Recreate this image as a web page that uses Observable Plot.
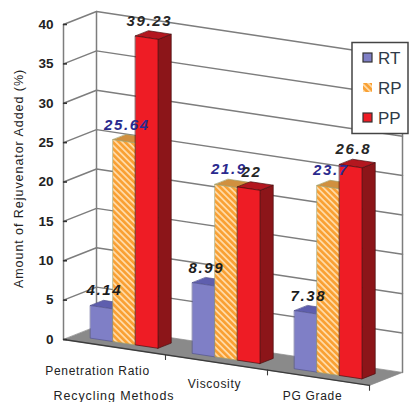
<!DOCTYPE html>
<html>
<head>
<meta charset="utf-8">
<script src="https://cdn.jsdelivr.net/npm/d3@7"></script>
<script src="https://cdn.jsdelivr.net/npm/@observablehq/plot@0.6"></script>
<style>
  html, body { margin: 0; padding: 0; background: #fff; }
</style>
</head>
<body>
<div id="chart"></div>
<script>
// Rejuvenator dosage by recycling method and binder type
const categories = ["Penetration Ratio", "Viscosity", "PG Grade"];
const seriesNames = ["RT", "RP", "PP"];
const rtValues = [4.14, 8.99, 7.38];
const rpValues = [25.64, 21.9, 23.7];
const ppValues = [39.23, 22, 26.8];
const valueTicks = [0, 5, 10, 15, 20, 25, 30, 35, 40];

// Oblique projection: u runs along the categories, f runs front to back (0..1)
const DEPTH_X = 33 / 102;
const DEPTH_Y = 1.65;
const SLOPE = 1.943;
const px = (u, f) => u + f * DEPTH_X;
const py = (u, v, f) => v - SLOPE * u + f * DEPTH_Y;
const pt = (id, u, v, f) => ({id, x: px(u, f), y: py(u, v, f)});

// Bar footprint inside a category cell
const BAR_START = 0.168, BAR_WIDTH = 0.2206, BAR_FRONT = 0.3, BAR_BACK = 0.7;

const styles = {
  RT: {front: "#7f7fc6", top: "#5e5eae", side: "#5a5aa6", stroke: "#55558f", values: rtValues, label: "#1c1c1c"},
  RP: {front: "url(#rp-hatch)", top: "#d0903f", side: "#c97f2c", stroke: "#a3a06a", values: rpValues, label: "#2a2a8e"},
  PP: {front: "#ee1c25", top: "#b3171f", side: "#8c1519", stroke: "#4a0f10", values: ppValues, label: "#262626"}
};

// One polygon per bar face
function faces(name, i) {
  const vals = styles[name].values;
  const front = [], top = [], side = [];
  vals.forEach((v, g) => {
    const a = g + BAR_START + i * BAR_WIDTH, b = a + BAR_WIDTH;
    front.push(pt(`f${g}`, a, 0, BAR_FRONT), pt(`f${g}`, b, 0, BAR_FRONT), pt(`f${g}`, b, v, BAR_FRONT), pt(`f${g}`, a, v, BAR_FRONT));
    top.push(pt(`t${g}`, a, v, BAR_FRONT), pt(`t${g}`, b, v, BAR_FRONT), pt(`t${g}`, b, v, BAR_BACK), pt(`t${g}`, a, v, BAR_BACK));
    side.push(pt(`s${g}`, b, 0, BAR_FRONT), pt(`s${g}`, b, 0, BAR_BACK), pt(`s${g}`, b, v, BAR_BACK), pt(`s${g}`, b, v, BAR_FRONT));
  });
  return {front, top, side};
}

const polygon = (rows, fill, stroke, strokeWidth = 0.7) =>
  Plot.line(rows, {x: "x", y: "y", z: "id", fill, stroke, strokeWidth, curve: "linear-closed"});

const wire = (rows, stroke = "#7d7d7d", strokeWidth = 1.5) =>
  Plot.line(rows, {x: "x", y: "y", z: "id", stroke, strokeWidth});

// Text marks have no tracking option, so it is set on the rendered group
const tracked = spacing => function(index, scales, values, dimensions, context, next) {
  const g = next(index, scales, values, dimensions, context);
  g.style.letterSpacing = `${spacing}px`;
  return g;
};

const U_MAX = categories.length;
const V_MAX = valueTicks[valueTicks.length - 1];

// Wall grid
const grid = valueTicks.slice(1).flatMap(v => [
  pt(`l${v}`, 0, v, 0), pt(`l${v}`, 0, v, 1), pt(`l${v}`, U_MAX, v, 1)
]);
const uprights = [
  pt("a", 0, 0, 0), pt("a", 0, V_MAX, 0),
  pt("b", 0, 0, 1), pt("b", 0, V_MAX, 1),
  pt("c", U_MAX, 0, 1), pt("c", U_MAX, V_MAX, 1)
];
const floor = [pt("floor", 0, 0, 0), pt("floor", U_MAX, 0, 0), pt("floor", U_MAX, 0, 1), pt("floor", 0, 0, 1)];
const frontEdge = [pt("edge", 0, 0, 0), pt("edge", U_MAX, 0, 0)];
const edgeTicks = d3.range(1, U_MAX + 1).flatMap(u => [
  pt(`k${u}`, u, 0, 0), pt(`k${u}`, u, -0.6, 0)
]);

// Value labels sit just above each bar's top face
const valueLabels = seriesNames.flatMap((name, i) =>
  styles[name].values.map((v, g) => {
    const u = g + BAR_START + (i + 0.5) * BAR_WIDTH, f = (BAR_FRONT + BAR_BACK) / 2;
    return {text: String(v), x: px(u, f), y: py(u, v, f), color: styles[name].label};
  })
);

// Category labels hang under the sloping front edge
const catNudge = [{dx: -17, dy: 24}, {dx: -2, dy: 22}, {dx: -6, dy: 18.5}];

function hatchDefs() {
  const defs = d3.create("svg:defs");
  const p = defs.append("pattern").attr("id", "rp-hatch").attr("patternUnits", "userSpaceOnUse")
    .attr("width", 4.4).attr("height", 4.4).attr("patternTransform", "rotate(45)");
  p.append("rect").attr("width", 4.4).attr("height", 4.4).attr("fill", "#f9a033");
  p.append("rect").attr("width", 4.4).attr("height", 1.8).attr("fill", "#ffdaa6");
  return defs.node();
}

function legendBox() {
  const g = d3.create("svg:g").attr("font-family", "Liberation Sans, Arial, sans-serif");
  g.append("rect").attr("x", 352).attr("y", 42.5).attr("width", 56).attr("height", 91)
    .attr("fill", "#fff").attr("stroke", "#444").attr("stroke-width", 1.5);
  const fills = {RT: "#7f7fc6", RP: "url(#rp-hatch)", PP: "#ee1c25"};
  const edges = {RT: "#333", RP: "none", PP: "#333"};
  seriesNames.forEach((name, i) => {
    const y = 53 + i * 30;
    g.append("rect").attr("x", 363).attr("y", y).attr("width", 9).attr("height", 9)
      .attr("fill", fills[name]).attr("stroke", edges[name]).attr("stroke-width", 1.2);
    g.append("text").attr("x", 378).attr("y", y + 10.5).attr("font-size", 17)
      .attr("text-anchor", "start").attr("fill", "#2f3a48").text(name);
  });
  return g.node();
}

const barMarks = seriesNames.flatMap((name, i) => {
  const {front, top, side} = faces(name, i);
  const s = styles[name];
  return [
    polygon(side, s.side, s.stroke),
    polygon(top, s.top, s.stroke),
    polygon(front, s.front, s.stroke)
  ];
});

const chart = Plot.plot({
  width: 409,
  height: 402,
  marginLeft: 63,
  marginRight: 40,
  marginTop: 24,
  marginBottom: 63,
  x: {domain: [0, U_MAX], axis: null},
  y: {domain: [0, V_MAX], axis: null},
  style: {fontFamily: "Liberation Sans, Arial, sans-serif", background: "#fff"},
  marks: [
    hatchDefs,
    wire(grid),
    wire(uprights),
    polygon(floor, "#8a8a8a", "#8a8a8a"),
    wire(frontEdge, "#3c3c3c", 1.3),
    wire(edgeTicks, "#3c3c3c", 1.1),
    ...barMarks,
    Plot.axisY({
      ticks: valueTicks,
      tickSize: -4,
      tickPadding: 14,
      stroke: "#333",
      strokeWidth: 1.6,
      fontSize: 13.5,
      fontWeight: 700,
      fill: "#222",
      label: null
    }),
    Plot.text(valueLabels, {
      x: "x", y: "y", text: "text", fill: "color",
      dx: -4, dy: -14,
      fontSize: 15, fontWeight: 700, fontStyle: "italic",
      render: tracked(1.6)
    }),
    ...categories.map((c, g) => Plot.text([c], {
      x: () => px(g + 0.5, 0),
      y: () => py(g + 0.5, 0, 0),
      text: d => d,
      dx: catNudge[g].dx, dy: catNudge[g].dy,
      fontSize: 12, fill: "#222",
      render: tracked(0.7)
    })),
    Plot.text(["Recycling Methods"], {
      frameAnchor: "bottom-left", text: d => d,
      dx: 53 - 63, dy: 56,
      fontSize: 12.5, fill: "#222", textAnchor: "start", lineAnchor: "middle",
      render: tracked(0.9)
    }),
    Plot.text(["Amount of Rejuvenator Added (%)"], {
      frameAnchor: "left", text: d => d, rotate: -90,
      dx: 18 - 63, dy: -3.5,
      fontSize: 12.5, fill: "#222", textAnchor: "middle", lineAnchor: "middle",
      render: tracked(0.95)
    }),
    legendBox
  ]
});

document.getElementById("chart").append(chart);
</script>
</body>
</html>
